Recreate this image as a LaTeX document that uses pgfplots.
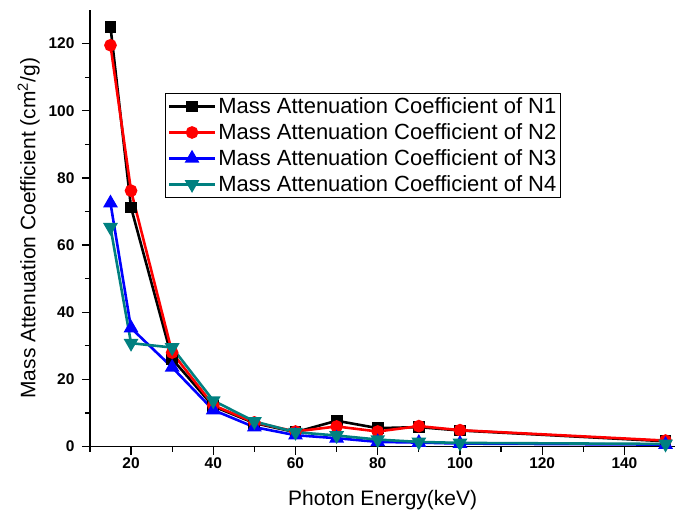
\documentclass[border=0pt]{standalone}
\usepackage{fontspec}
\setmainfont{Liberation Sans}
\usepackage{pgfplots}
\pgfplotsset{compat=1.18}
\definecolor{tealc}{RGB}{0,128,128}
\newcommand\tl[1]{\hbox{\fontsize{15.5}{18}\selectfont\bfseries #1}}
\begin{document}
\begin{tikzpicture}
\begin{axis}[
  scale only axis,
  width=586pt, height=437pt,
  xmin=10, xmax=152.4, ymin=0, ymax=130,
  axis x line*=bottom, axis y line*=left,
  axis line style={-, line width=1.2pt},
  xtick={20,40,...,140}, ytick={0,20,...,120},
  xticklabels={\tl{20},\tl{40},\tl{60},\tl{80},\tl{100},\tl{120},\tl{140}},
  yticklabels={\tl{0},\tl{20},\tl{40},\tl{60},\tl{80},\tl{100},\tl{120}},
  yticklabel style={xshift=-4pt},
  minor xtick={10,30,...,150}, minor ytick={10,30,...,110},
  tick align=outside,
  major tick length=8pt, minor tick length=5pt,
  every tick/.style={black, line width=1.2pt},
  label style={font=\fontsize{21}{25}\selectfont},
  xlabel style={yshift=-14pt},
  ylabel style={yshift=2pt},
  xlabel={Photon Energy(keV)},
  ylabel={Mass Attenuation Coefficient (cm\textsuperscript{2}/g)},
  legend style={at={(0.128,0.81)}, anchor=north west, draw=black, line width=0.8pt,
    font=\fontsize{22}{24}\selectfont, inner sep=2.5pt, row sep=4.5pt},
  legend cell align=left,
  legend image code/.code={\draw[mark repeat=2,mark phase=2] plot coordinates {(0pt,0pt) (23pt,0pt) (46pt,0pt)};},
]
\addplot[black, line width=2.6pt, mark=square*, mark size=4.6pt, mark options={solid}] coordinates {
(15,125) (20,71.2) (30,26.1) (40,12) (50,7) (60,4.3) (70,7.7) (80,5.5) (90,5.8) (100,4.8) (150,1.6)};
\addlegendentry{Mass Attenuation Coefficient of N1}
\addplot[red, line width=2.6pt, mark=*, mark size=5pt] coordinates {
(15,119.5) (20,76.2) (30,28) (40,12.3) (50,7.2) (60,4.5) (70,6.0) (80,4.5) (90,6.1) (100,4.9) (150,1.8)};
\addlegendentry{Mass Attenuation Coefficient of N2}
\addplot[blue, line width=2.6pt, mark=triangle*, mark size=6pt] coordinates {
(15,72.5) (20,35.3) (30,23.6) (40,10.9) (50,5.8) (60,3.4) (70,2.5) (80,1.4) (90,1.2) (100,0.9) (150,0.6)};
\addlegendentry{Mass Attenuation Coefficient of N3}
\addplot[tealc, line width=2.6pt, mark=triangle*, mark size=6pt, mark options={rotate=180}] coordinates {
(15,65.3) (20,30.8) (30,29.5) (40,13.7) (50,7.5) (60,4.3) (70,3.3) (80,2.1) (90,1.4) (100,1.1) (150,0.8)};
\addlegendentry{Mass Attenuation Coefficient of N4}
\end{axis}
\path[use as bounding box] (current axis.south west) ++(-90pt,-68pt) rectangle ++(676pt,515pt);
\end{tikzpicture}
\end{document}
